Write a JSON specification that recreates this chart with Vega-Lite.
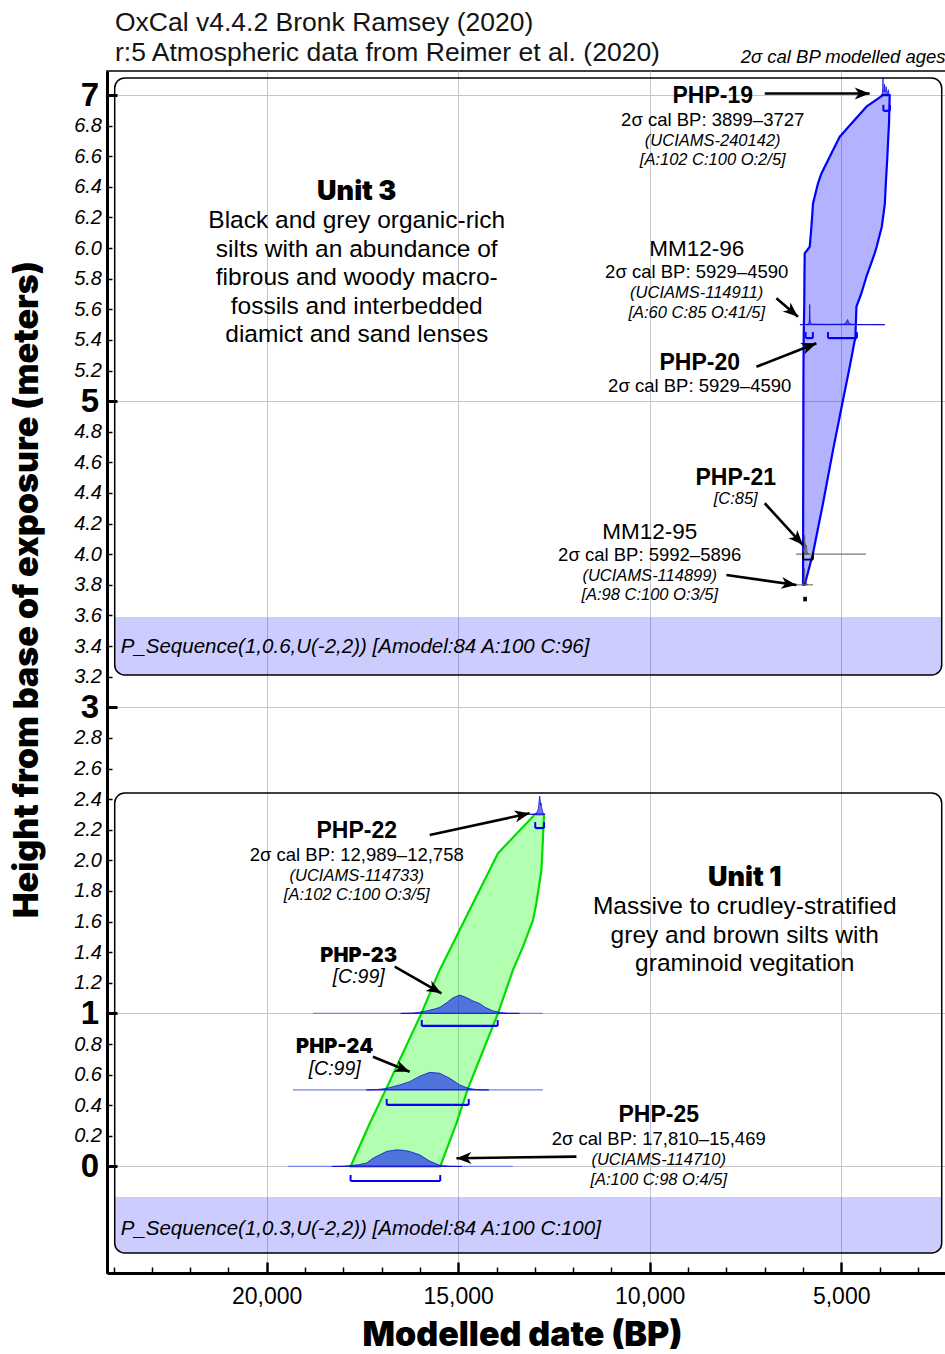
{
  "$schema": "https://vega.github.io/schema/vega-lite/v6.json",
  "width": 840,
  "height": 1202,
  "autosize": {"type": "none"},
  "padding": {"left": 107, "top": 71, "right": 0, "bottom": 81},
  "background": "white",
  "title": {
    "text": ["OxCal v4.4.2 Bronk Ramsey (2020)", "r:5 Atmospheric data from Reimer et al. (2020)"],
    "anchor": "start",
    "frame": "group",
    "dx": 8,
    "dy": 50,
    "offset": 5,
    "font": "Liberation Sans",
    "fontSize": 26.5,
    "fontWeight": "normal",
    "color": "#141414",
    "lineHeight": 30,
    "baseline": "bottom"
  },
  "config": {
    "view": {"stroke": "black", "strokeWidth": 1.5},
    "text": {"font": "Liberation Sans", "color": "black"}
  },
  "datasets": {
    "boxes": [
      {"unit": "Unit 3", "older": 23969, "younger": 2376, "top": 7.111, "bottom": 3.211, "bandTop": 3.59},
      {"unit": "Unit 1", "older": 23969, "younger": 2376, "top": 2.44, "bottom": -0.565, "bandTop": -0.199}
    ],
    "envelope": [
      {"sequence": "Unit 3", "h": 7.0, "older": 3909, "younger": 3734},
      {"sequence": "Unit 3", "h": 6.924, "older": 4342, "younger": 3742},
      {"sequence": "Unit 3", "h": 6.826, "older": 4692, "younger": 3750},
      {"sequence": "Unit 3", "h": 6.728, "older": 5039, "younger": 3770},
      {"sequence": "Unit 3", "h": 6.597, "older": 5300, "younger": 3795},
      {"sequence": "Unit 3", "h": 6.488, "older": 5517, "younger": 3820},
      {"sequence": "Unit 3", "h": 6.423, "older": 5606, "younger": 3835},
      {"sequence": "Unit 3", "h": 6.292, "older": 5736, "younger": 3860},
      {"sequence": "Unit 3", "h": 6.14, "older": 5778, "younger": 3940},
      {"sequence": "Unit 3", "h": 6.009, "older": 5822, "younger": 4075},
      {"sequence": "Unit 3", "h": 5.966, "older": 5953, "younger": 4125},
      {"sequence": "Unit 3", "h": 5.813, "older": 5960, "younger": 4342},
      {"sequence": "Unit 3", "h": 5.705, "older": 5963, "younger": 4473},
      {"sequence": "Unit 3", "h": 5.617, "older": 5966, "younger": 4603},
      {"sequence": "Unit 3", "h": 5.421, "older": 5980, "younger": 4629},
      {"sequence": "Unit 3", "h": 5.225, "older": 5985, "younger": 4778},
      {"sequence": "Unit 3", "h": 5.007, "older": 5988, "younger": 4953},
      {"sequence": "Unit 3", "h": 4.68, "older": 5990, "younger": 5214},
      {"sequence": "Unit 3", "h": 4.333, "older": 5993, "younger": 5475},
      {"sequence": "Unit 3", "h": 4.006, "older": 5995, "younger": 5736},
      {"sequence": "Unit 3", "h": 3.8, "older": 5997, "younger": 5953},
      {"sequence": "Unit 1", "h": 2.3, "older": 13000, "younger": 12760},
      {"sequence": "Unit 1", "h": 2.046, "older": 13961, "younger": 12805},
      {"sequence": "Unit 1", "h": 1.937, "older": 14179, "younger": 12828},
      {"sequence": "Unit 1", "h": 1.719, "older": 14614, "younger": 12960},
      {"sequence": "Unit 1", "h": 1.61, "older": 14832, "younger": 13047},
      {"sequence": "Unit 1", "h": 1.436, "older": 15180, "younger": 13308},
      {"sequence": "Unit 1", "h": 1.284, "older": 15483, "younger": 13569},
      {"sequence": "Unit 1", "h": 1.0, "older": 15961, "younger": 13961},
      {"sequence": "Unit 1", "h": 0.51, "older": 16875, "younger": 14744},
      {"sequence": "Unit 1", "h": 0.281, "older": 17311, "younger": 15047},
      {"sequence": "Unit 1", "h": 0.0, "older": 17810, "younger": 15469}
    ],
    "baselines": [
      {"sample": "MM12-96", "from": 6077, "to": 3864, "h": 5.5},
      {"sample": "PHP-21", "from": 6180, "to": 4352, "h": 4.0},
      {"sample": "MM12-95", "from": 6180, "to": 5736, "h": 3.8},
      {"sample": "PHP-22", "from": 13130, "to": 12760, "h": 2.3},
      {"sample": "PHP-23", "from": 18793, "to": 12789, "h": 1.0},
      {"sample": "PHP-24", "from": 19317, "to": 12789, "h": 0.5},
      {"sample": "PHP-25", "from": 19448, "to": 13574, "h": 0.0}
    ],
    "densities": [
      {"sample": "PHP-19", "year": 3960, "base": 7.0, "value": 7.0},
      {"sample": "PHP-19", "year": 3930, "base": 7.0, "value": 7.005},
      {"sample": "PHP-19", "year": 3915, "base": 7.0, "value": 7.04},
      {"sample": "PHP-19", "year": 3910, "base": 7.0, "value": 7.115},
      {"sample": "PHP-19", "year": 3905, "base": 7.0, "value": 7.04},
      {"sample": "PHP-19", "year": 3895, "base": 7.0, "value": 7.02},
      {"sample": "PHP-19", "year": 3880, "base": 7.0, "value": 7.025},
      {"sample": "PHP-19", "year": 3868, "base": 7.0, "value": 7.07},
      {"sample": "PHP-19", "year": 3858, "base": 7.0, "value": 7.03},
      {"sample": "PHP-19", "year": 3840, "base": 7.0, "value": 7.02},
      {"sample": "PHP-19", "year": 3825, "base": 7.0, "value": 7.055},
      {"sample": "PHP-19", "year": 3812, "base": 7.0, "value": 7.02},
      {"sample": "PHP-19", "year": 3790, "base": 7.0, "value": 7.01},
      {"sample": "PHP-19", "year": 3770, "base": 7.0, "value": 7.035},
      {"sample": "PHP-19", "year": 3755, "base": 7.0, "value": 7.01},
      {"sample": "PHP-19", "year": 3730, "base": 7.0, "value": 7.0},
      {"sample": "MM12-96", "year": 6077, "base": 5.5, "value": 5.5},
      {"sample": "MM12-96", "year": 5900, "base": 5.5, "value": 5.501},
      {"sample": "MM12-96", "year": 5850, "base": 5.5, "value": 5.505},
      {"sample": "MM12-96", "year": 5832, "base": 5.5, "value": 5.53},
      {"sample": "MM12-96", "year": 5822, "base": 5.5, "value": 5.632},
      {"sample": "MM12-96", "year": 5812, "base": 5.5, "value": 5.53},
      {"sample": "MM12-96", "year": 5795, "base": 5.5, "value": 5.508},
      {"sample": "MM12-96", "year": 5750, "base": 5.5, "value": 5.503},
      {"sample": "MM12-96", "year": 5400, "base": 5.5, "value": 5.502},
      {"sample": "MM12-96", "year": 4950, "base": 5.5, "value": 5.503},
      {"sample": "MM12-96", "year": 4880, "base": 5.5, "value": 5.51},
      {"sample": "MM12-96", "year": 4835, "base": 5.5, "value": 5.533},
      {"sample": "MM12-96", "year": 4800, "base": 5.5, "value": 5.512},
      {"sample": "MM12-96", "year": 4740, "base": 5.5, "value": 5.503},
      {"sample": "MM12-96", "year": 4600, "base": 5.5, "value": 5.501},
      {"sample": "MM12-96", "year": 3864, "base": 5.5, "value": 5.5},
      {"sample": "PHP-21", "year": 6010, "base": 4.0, "value": 4.0},
      {"sample": "PHP-21", "year": 5985, "base": 4.0, "value": 4.02},
      {"sample": "PHP-21", "year": 5965, "base": 4.0, "value": 4.05},
      {"sample": "PHP-21", "year": 5955, "base": 4.0, "value": 4.125},
      {"sample": "PHP-21", "year": 5946, "base": 4.0, "value": 4.05},
      {"sample": "PHP-21", "year": 5935, "base": 4.0, "value": 4.07},
      {"sample": "PHP-21", "year": 5925, "base": 4.0, "value": 4.045},
      {"sample": "PHP-21", "year": 5910, "base": 4.0, "value": 4.06},
      {"sample": "PHP-21", "year": 5895, "base": 4.0, "value": 4.02},
      {"sample": "PHP-21", "year": 5870, "base": 4.0, "value": 4.005},
      {"sample": "PHP-21", "year": 5840, "base": 4.0, "value": 4.0},
      {"sample": "MM12-95", "year": 6010, "base": 3.8, "value": 3.8},
      {"sample": "MM12-95", "year": 5985, "base": 3.8, "value": 3.815},
      {"sample": "MM12-95", "year": 5968, "base": 3.8, "value": 3.86},
      {"sample": "MM12-95", "year": 5960, "base": 3.8, "value": 3.91},
      {"sample": "MM12-95", "year": 5952, "base": 3.8, "value": 3.85},
      {"sample": "MM12-95", "year": 5940, "base": 3.8, "value": 3.835},
      {"sample": "MM12-95", "year": 5925, "base": 3.8, "value": 3.83},
      {"sample": "MM12-95", "year": 5905, "base": 3.8, "value": 3.81},
      {"sample": "MM12-95", "year": 5880, "base": 3.8, "value": 3.8},
      {"sample": "PHP-22", "year": 13130, "base": 2.3, "value": 2.3},
      {"sample": "PHP-22", "year": 13000, "base": 2.3, "value": 2.303},
      {"sample": "PHP-22", "year": 12940, "base": 2.3, "value": 2.315},
      {"sample": "PHP-22", "year": 12905, "base": 2.3, "value": 2.34},
      {"sample": "PHP-22", "year": 12885, "base": 2.3, "value": 2.395},
      {"sample": "PHP-22", "year": 12873, "base": 2.3, "value": 2.42},
      {"sample": "PHP-22", "year": 12862, "base": 2.3, "value": 2.4},
      {"sample": "PHP-22", "year": 12850, "base": 2.3, "value": 2.36},
      {"sample": "PHP-22", "year": 12838, "base": 2.3, "value": 2.375},
      {"sample": "PHP-22", "year": 12822, "base": 2.3, "value": 2.345},
      {"sample": "PHP-22", "year": 12805, "base": 2.3, "value": 2.33},
      {"sample": "PHP-22", "year": 12785, "base": 2.3, "value": 2.31},
      {"sample": "PHP-22", "year": 12760, "base": 2.3, "value": 2.302},
      {"sample": "PHP-22", "year": 12730, "base": 2.3, "value": 2.3},
      {"sample": "PHP-23", "year": 16500, "base": 1.0, "value": 1.0},
      {"sample": "PHP-23", "year": 16200, "base": 1.0, "value": 1.002},
      {"sample": "PHP-23", "year": 16000, "base": 1.0, "value": 1.008},
      {"sample": "PHP-23", "year": 15800, "base": 1.0, "value": 1.018},
      {"sample": "PHP-23", "year": 15600, "base": 1.0, "value": 1.03},
      {"sample": "PHP-23", "year": 15480, "base": 1.0, "value": 1.04},
      {"sample": "PHP-23", "year": 15300, "base": 1.0, "value": 1.07},
      {"sample": "PHP-23", "year": 15150, "base": 1.0, "value": 1.1},
      {"sample": "PHP-23", "year": 14961, "base": 1.0, "value": 1.12},
      {"sample": "PHP-23", "year": 14800, "base": 1.0, "value": 1.105},
      {"sample": "PHP-23", "year": 14600, "base": 1.0, "value": 1.08},
      {"sample": "PHP-23", "year": 14440, "base": 1.0, "value": 1.065},
      {"sample": "PHP-23", "year": 14300, "base": 1.0, "value": 1.04},
      {"sample": "PHP-23", "year": 14100, "base": 1.0, "value": 1.017},
      {"sample": "PHP-23", "year": 13900, "base": 1.0, "value": 1.006},
      {"sample": "PHP-23", "year": 13700, "base": 1.0, "value": 1.001},
      {"sample": "PHP-23", "year": 13400, "base": 1.0, "value": 1.0},
      {"sample": "PHP-24", "year": 17400, "base": 0.5, "value": 0.5},
      {"sample": "PHP-24", "year": 17100, "base": 0.5, "value": 0.503},
      {"sample": "PHP-24", "year": 16875, "base": 0.5, "value": 0.51},
      {"sample": "PHP-24", "year": 16527, "base": 0.5, "value": 0.533},
      {"sample": "PHP-24", "year": 16267, "base": 0.5, "value": 0.554},
      {"sample": "PHP-24", "year": 16005, "base": 0.5, "value": 0.59},
      {"sample": "PHP-24", "year": 15744, "base": 0.5, "value": 0.615},
      {"sample": "PHP-24", "year": 15483, "base": 0.5, "value": 0.609},
      {"sample": "PHP-24", "year": 15222, "base": 0.5, "value": 0.576},
      {"sample": "PHP-24", "year": 14961, "base": 0.5, "value": 0.533},
      {"sample": "PHP-24", "year": 14744, "base": 0.5, "value": 0.511},
      {"sample": "PHP-24", "year": 14510, "base": 0.5, "value": 0.502},
      {"sample": "PHP-24", "year": 14200, "base": 0.5, "value": 0.5},
      {"sample": "PHP-25", "year": 18300, "base": 0.0, "value": 0.0},
      {"sample": "PHP-25", "year": 18000, "base": 0.0, "value": 0.002},
      {"sample": "PHP-25", "year": 17800, "base": 0.0, "value": 0.006},
      {"sample": "PHP-25", "year": 17600, "base": 0.0, "value": 0.012},
      {"sample": "PHP-25", "year": 17397, "base": 0.0, "value": 0.022},
      {"sample": "PHP-25", "year": 17225, "base": 0.0, "value": 0.054},
      {"sample": "PHP-25", "year": 17050, "base": 0.0, "value": 0.076},
      {"sample": "PHP-25", "year": 16875, "base": 0.0, "value": 0.098},
      {"sample": "PHP-25", "year": 16614, "base": 0.0, "value": 0.109},
      {"sample": "PHP-25", "year": 16400, "base": 0.0, "value": 0.105},
      {"sample": "PHP-25", "year": 16267, "base": 0.0, "value": 0.098},
      {"sample": "PHP-25", "year": 16005, "base": 0.0, "value": 0.076},
      {"sample": "PHP-25", "year": 15744, "base": 0.0, "value": 0.035},
      {"sample": "PHP-25", "year": 15483, "base": 0.0, "value": 0.008},
      {"sample": "PHP-25", "year": 15200, "base": 0.0, "value": 0.001},
      {"sample": "PHP-25", "year": 14900, "base": 0.0, "value": 0.0}
    ],
    "ranges": [
      {"sample": "PHP-19", "from": 3899, "to": 3727, "h": 6.897},
      {"sample": "MM12-96", "from": 5929, "to": 5740, "h": 5.412},
      {"sample": "MM12-96", "from": 5345, "to": 4590, "h": 5.412},
      {"sample": "PHP-22", "from": 12989, "to": 12758, "h": 2.211},
      {"sample": "PHP-23", "from": 15953, "to": 13969, "h": 0.918},
      {"sample": "PHP-24", "from": 16867, "to": 14726, "h": 0.402},
      {"sample": "PHP-25", "from": 17810, "to": 15469, "h": -0.095},
      {"sample": "PHP-21", "from": 5997, "to": 5736, "h": 3.965},
      {"sample": "MM12-95", "from": 5992, "to": 5896, "h": 3.707}
    ],
    "arrows": [
      {"label": "PHP-19", "fromYear": 6997, "fromH": 7.01, "toYear": 4256, "toH": 7.01},
      {"label": "MM12-96", "fromYear": 6692, "fromH": 5.672, "toYear": 6128, "toH": 5.552},
      {"label": "PHP-20", "fromYear": 7214, "fromH": 5.225, "toYear": 5648, "toH": 5.378},
      {"label": "PHP-21", "fromYear": 6997, "fromH": 4.333, "toYear": 5997, "toH": 4.06},
      {"label": "MM12-95", "fromYear": 7997, "fromH": 3.864, "toYear": 6170, "toH": 3.799},
      {"label": "PHP-22", "fromYear": 15744, "fromH": 2.166, "toYear": 13133, "toH": 2.307},
      {"label": "PHP-23", "fromYear": 16658, "fromH": 1.305, "toYear": 15439, "toH": 1.131},
      {"label": "PHP-24", "fromYear": 17225, "fromH": 0.717, "toYear": 16267, "toH": 0.619},
      {"label": "PHP-25", "fromYear": 11914, "fromH": 0.064, "toYear": 15047, "toH": 0.054}
    ],
    "notes": [
      {"text": "PHP-19", "year": 8355, "h": 6.948, "role": "sample"},
      {"text": "PHP-20", "year": 8695, "h": 5.203, "role": "sample"},
      {"text": "PHP-21", "year": 7755, "h": 4.452, "role": "sample"},
      {"text": "PHP-22", "year": 17650, "h": 2.146, "role": "sample"},
      {"text": "PHP-25", "year": 9765, "h": 0.291, "role": "sample"},
      {"text": "PHP-23", "year": 17598, "h": 1.336, "role": "sampleHeavy"},
      {"text": "PHP-24", "year": 18225, "h": 0.741, "role": "sampleHeavy"},
      {"text": "MM12-96", "year": 8773, "h": 5.948, "role": "lab"},
      {"text": "MM12-95", "year": 10000, "h": 4.099, "role": "lab"},
      {"text": "2σ cal BP: 3899–3727", "year": 8355, "h": 6.797, "role": "range"},
      {"text": "2σ cal BP: 5929–4590", "year": 8773, "h": 5.804, "role": "range"},
      {"text": "2σ cal BP: 5929–4590", "year": 8695, "h": 5.06, "role": "range"},
      {"text": "2σ cal BP: 5992–5896", "year": 10000, "h": 3.956, "role": "range"},
      {"text": "2σ cal BP: 12,989–12,758", "year": 17650, "h": 1.997, "role": "range"},
      {"text": "2σ cal BP: 17,810–15,469", "year": 9765, "h": 0.141, "role": "range"},
      {"text": "(UCIAMS-240142)", "year": 8355, "h": 6.667, "role": "note"},
      {"text": "[A:102 C:100 O:2/5]", "year": 8355, "h": 6.543, "role": "note"},
      {"text": "(UCIAMS-114911)", "year": 8773, "h": 5.674, "role": "note"},
      {"text": "[A:60 C:85 O:41/5]", "year": 8773, "h": 5.543, "role": "note"},
      {"text": "[C:85]", "year": 7755, "h": 4.328, "role": "note"},
      {"text": "(UCIAMS-114899)", "year": 10000, "h": 3.825, "role": "note"},
      {"text": "[A:98 C:100 O:3/5]", "year": 10000, "h": 3.701, "role": "note"},
      {"text": "(UCIAMS-114733)", "year": 17650, "h": 1.865, "role": "note"},
      {"text": "[A:102 C:100 O:3/5]", "year": 17650, "h": 1.741, "role": "note"},
      {"text": "(UCIAMS-114710)", "year": 9765, "h": 0.01, "role": "note"},
      {"text": "[A:100 C:98 O:4/5]", "year": 9765, "h": -0.121, "role": "note"},
      {"text": "[C:99]", "year": 17598, "h": 1.198, "role": "noteLarge"},
      {"text": "[C:99]", "year": 18225, "h": 0.597, "role": "noteLarge"},
      {"text": "Unit 3", "year": 17650, "h": 6.314, "role": "unit"},
      {"text": "Unit 1", "year": 7519, "h": 1.832, "role": "unit"},
      {"text": "Black and grey organic-rich", "year": 17650, "h": 6.131, "role": "unitText"},
      {"text": "silts with an abundance of", "year": 17650, "h": 5.942, "role": "unitText"},
      {"text": "fibrous and woody macro-", "year": 17650, "h": 5.759, "role": "unitText"},
      {"text": "fossils and interbedded", "year": 17650, "h": 5.569, "role": "unitText"},
      {"text": "diamict and sand lenses", "year": 17650, "h": 5.386, "role": "unitText"},
      {"text": "Massive to crudley-stratified", "year": 7519, "h": 1.65, "role": "unitText"},
      {"text": "grey and brown silts with", "year": 7519, "h": 1.46, "role": "unitText"},
      {"text": "graminoid vegitation", "year": 7519, "h": 1.277, "role": "unitText"},
      {"text": "P_Sequence(1,0.6,U(-2,2)) [Amodel:84 A:100 C:96]", "year": 23812, "h": 3.355, "role": "model"},
      {"text": "P_Sequence(1,0.3,U(-2,2)) [Amodel:84 A:100 C:100]", "year": 23812, "h": -0.4475, "role": "model"},
      {"text": "2σ cal BP modelled ages", "year": 7624, "h": 7.209, "role": "caption"}
    ]
  },
  "layer": [
    {
      "data": {"name": "boxes"},
      "mark": {"type": "rect", "fill": "#0000ff", "fillOpacity": 0.2, "strokeWidth": 0, "cornerRadiusBottomLeft": 9, "cornerRadiusBottomRight": 9},
      "encoding": {
        "x": {
          "field": "older",
          "type": "quantitative",
          "scale": {"domain": [2238, 24170], "reverse": true, "nice": false, "zero": false},
          "axis": {
            "title": "Modelled date (BP)",
            "titleFont": "Inter",
            "titleFontWeight": 900,
            "titleFontSize": 34,
            "titleColor": "black",
            "titleX": 415,
            "titleY": 72,
            "titleAlign": "center",
            "titleBaseline": "alphabetic",
            "values": [3000, 4000, 5000, 6000, 7000, 8000, 9000, 10000, 11000, 12000, 13000, 14000, 15000, 16000, 17000, 18000, 19000, 20000, 21000, 22000, 23000, 24000],
            "tickCount": 500,
            "labelExpr": "datum.value % 5000 === 0 ? format(datum.value, ',') : ''",
            "labelFont": "Liberation Sans",
            "labelFontSize": 23,
            "labelColor": "black",
            "labelBaseline": "alphabetic",
            "labelPadding": 41,
            "labelOverlap": false,
            "labelFlush": false,
            "labelBound": false,
            "tickColor": "black",
            "tickSize": {"condition": {"test": "datum.value % 5000 === 0", "value": -11}, "value": -6},
            "tickWidth": {"condition": {"test": "datum.value % 5000 === 0", "value": 2.5}, "value": 1.5},
            "domainColor": "black",
            "domainWidth": 3,
            "grid": true,
            "gridColor": "#c4c4cc",
            "gridWidth": 1,
            "gridOpacity": {"condition": {"test": "datum.value % 5000 === 0", "value": 1}, "value": 0}
          }
        },
        "x2": {"field": "younger"},
        "y": {
          "field": "bandTop",
          "type": "quantitative",
          "scale": {"domain": [-0.696, 7.157], "nice": false, "zero": false},
          "axis": {
            "title": "Height from base of exposure (meters)",
            "titleFont": "Inter",
            "titleFontWeight": 900,
            "titleFontSize": 34,
            "titleColor": "black",
            "titleX": -80,
            "titleY": 518,
            "titleAngle": 270,
            "titleAlign": "center",
            "titleBaseline": "middle",
            "values": [0, 0.2, 0.4, 0.6, 0.8, 1, 1.2, 1.4, 1.6, 1.8, 2, 2.2, 2.4, 2.6, 2.8, 3, 3.2, 3.4, 3.6, 3.8, 4, 4.2, 4.4, 4.6, 4.8, 5, 5.2, 5.4, 5.6, 5.8, 6, 6.2, 6.4, 6.6, 6.8, 7],
            "tickCount": 500,
            "labelExpr": "(datum.value === 0 || datum.value === 1 || datum.value === 3 || datum.value === 5 || datum.value === 7) ? format(datum.value, 'd') : format(datum.value, '.1f')",
            "labelFont": "Liberation Sans",
            "labelColor": "black",
            "labelBaseline": "middle",
            "labelFontSize": {"condition": {"test": "datum.value === 0 || datum.value === 1 || datum.value === 3 || datum.value === 5 || datum.value === 7", "value": 33}, "value": 20},
            "labelFontWeight": {"condition": {"test": "datum.value === 0 || datum.value === 1 || datum.value === 3 || datum.value === 5 || datum.value === 7", "value": "bold"}, "value": "normal"},
            "labelFontStyle": {"condition": {"test": "datum.value === 0 || datum.value === 1 || datum.value === 3 || datum.value === 5 || datum.value === 7", "value": "normal"}, "value": "italic"},
            "labelPadding": {"condition": {"test": "datum.value === 0 || datum.value === 1 || datum.value === 3 || datum.value === 5 || datum.value === 7", "value": 18.5}, "value": 10.5},
            "labelOverlap": false,
            "labelFlush": false,
            "labelBound": false,
            "tickColor": "black",
            "tickSize": {"condition": {"test": "datum.value === 0 || datum.value === 1 || datum.value === 3 || datum.value === 5 || datum.value === 7", "value": -10}, "value": -5},
            "tickWidth": {"condition": {"test": "datum.value === 0 || datum.value === 1 || datum.value === 3 || datum.value === 5 || datum.value === 7", "value": 3}, "value": 1.5},
            "domainColor": "black",
            "domainWidth": 3,
            "grid": true,
            "gridColor": "#c4c4cc",
            "gridWidth": 1,
            "gridOpacity": {"condition": {"test": "datum.value === 0 || datum.value === 1 || datum.value === 3 || datum.value === 5 || datum.value === 7", "value": 1}, "value": 0}
          }
        },
        "y2": {"field": "bottom"}
      }
    },
    {
      "data": {"name": "boxes"},
      "mark": {"type": "rect", "filled": false, "stroke": "black", "strokeWidth": 1.5, "cornerRadius": 10},
      "encoding": {
        "x": {"field": "older", "type": "quantitative"},
        "x2": {"field": "younger"},
        "y": {"field": "top", "type": "quantitative"},
        "y2": {"field": "bottom"}
      }
    },
    {
      "data": {"name": "envelope"},
      "transform": [{"filter": "datum.sequence === 'Unit 3'"}],
      "mark": {"type": "area", "orient": "horizontal", "fill": "#0000ff", "fillOpacity": 0.3, "stroke": "#0000ff", "strokeWidth": 2.2, "strokeJoin": "round"},
      "encoding": {
        "y": {"field": "h", "type": "quantitative"},
        "x": {"field": "older", "type": "quantitative", "stack": null},
        "x2": {"field": "younger"}
      }
    },
    {
      "data": {"name": "envelope"},
      "transform": [{"filter": "datum.sequence === 'Unit 1'"}],
      "mark": {"type": "area", "orient": "horizontal", "fill": "#00ff00", "fillOpacity": 0.3, "stroke": "#00dd00", "strokeWidth": 2.2, "strokeJoin": "round"},
      "encoding": {
        "y": {"field": "h", "type": "quantitative"},
        "x": {"field": "older", "type": "quantitative", "stack": null},
        "x2": {"field": "younger"}
      }
    },
    {
      "data": {"name": "baselines"},
      "transform": [{"filter": "datum.sample !== 'PHP-21' && datum.sample !== 'MM12-95'"}],
      "mark": {"type": "rule", "color": "#7482f0", "strokeWidth": 1.2},
      "encoding": {
        "x": {"field": "from", "type": "quantitative"},
        "x2": {"field": "to"},
        "y": {"field": "h", "type": "quantitative"}
      }
    },
    {
      "data": {"name": "baselines"},
      "transform": [{"filter": "datum.sample === 'PHP-21' || datum.sample === 'MM12-95'"}],
      "mark": {"type": "rule", "color": "#777777", "strokeWidth": 1.2},
      "encoding": {
        "x": {"field": "from", "type": "quantitative"},
        "x2": {"field": "to"},
        "y": {"field": "h", "type": "quantitative"}
      }
    },
    {
      "data": {"name": "densities"},
      "transform": [{"filter": "datum.sample !== 'PHP-21' && datum.sample !== 'MM12-95'"}],
      "mark": {"type": "area", "fill": "#0000ff", "fillOpacity": 0.55, "stroke": "#0000c8", "strokeWidth": 0.7},
      "encoding": {
        "x": {"field": "year", "type": "quantitative"},
        "y": {"field": "value", "type": "quantitative", "stack": null},
        "y2": {"field": "base"},
        "detail": {"field": "sample"}
      }
    },
    {
      "data": {"name": "densities"},
      "transform": [{"filter": "datum.sample === 'PHP-21' || datum.sample === 'MM12-95'"}],
      "mark": {"type": "area", "fill": "#333333", "fillOpacity": 0.5, "stroke": "#555555", "strokeWidth": 0.7},
      "encoding": {
        "x": {"field": "year", "type": "quantitative"},
        "y": {"field": "value", "type": "quantitative", "stack": null},
        "y2": {"field": "base"},
        "detail": {"field": "sample"}
      }
    },
    {
      "data": {"name": "ranges"},
      "transform": [{"filter": "datum.sample !== 'PHP-21' && datum.sample !== 'MM12-95'"}],
      "mark": {"type": "rule", "color": "#0000ff", "strokeWidth": 2.2},
      "encoding": {
        "x": {"field": "from", "type": "quantitative"},
        "x2": {"field": "to"},
        "y": {"field": "h", "type": "quantitative"}
      }
    },
    {
      "data": {"name": "ranges"},
      "transform": [
        {"filter": "datum.sample !== 'PHP-21' && datum.sample !== 'MM12-95'"},
        {"fold": ["from", "to"], "as": ["end", "year"]}
      ],
      "mark": {"type": "tick", "orient": "vertical", "size": 6, "thickness": 2, "yOffset": -3, "color": "#0000ff", "opacity": 1},
      "encoding": {
        "x": {"field": "year", "type": "quantitative"},
        "y": {"field": "h", "type": "quantitative"}
      }
    },
    {
      "data": {"name": "ranges"},
      "transform": [{"filter": "datum.sample === 'PHP-21'"}],
      "mark": {"type": "rule", "color": "black", "strokeWidth": 1.8},
      "encoding": {
        "x": {"field": "from", "type": "quantitative"},
        "x2": {"field": "to"},
        "y": {"field": "h", "type": "quantitative"}
      }
    },
    {
      "data": {"name": "ranges"},
      "transform": [
        {"filter": "datum.sample === 'PHP-21'"},
        {"fold": ["from", "to"], "as": ["end", "year"]}
      ],
      "mark": {"type": "tick", "orient": "vertical", "size": 7, "thickness": 1.8, "yOffset": -3.5, "color": "black", "opacity": 1},
      "encoding": {
        "x": {"field": "year", "type": "quantitative"},
        "y": {"field": "h", "type": "quantitative"}
      }
    },
    {
      "data": {"name": "ranges"},
      "transform": [{"filter": "datum.sample === 'MM12-95'"}],
      "mark": {"type": "rule", "color": "black", "strokeWidth": 4.5},
      "encoding": {
        "x": {"field": "from", "type": "quantitative"},
        "x2": {"field": "to"},
        "y": {"field": "h", "type": "quantitative"}
      }
    },
    {
      "data": {"name": "arrows"},
      "mark": {"type": "rule", "color": "black", "strokeWidth": 2.6},
      "encoding": {
        "x": {"field": "fromYear", "type": "quantitative"},
        "y": {"field": "fromH", "type": "quantitative"},
        "x2": {"field": "toYear"},
        "y2": {"field": "toH"}
      }
    },
    {
      "data": {"name": "arrows"},
      "transform": [{"filter": "datum.label === 'PHP-19'"}],
      "mark": {"type": "point", "shape": "M0,0L-2,-0.8L-1.45,0L-2,0.8Z", "size": 225, "filled": true, "color": "black", "opacity": 1, "strokeWidth": 0, "angle": 0},
      "encoding": {"x": {"field": "toYear", "type": "quantitative"}, "y": {"field": "toH", "type": "quantitative"}}
    },
    {
      "data": {"name": "arrows"},
      "transform": [{"filter": "datum.label === 'MM12-96'"}],
      "mark": {"type": "point", "shape": "M0,0L-2,-0.8L-1.45,0L-2,0.8Z", "size": 225, "filled": true, "color": "black", "opacity": 1, "strokeWidth": 0, "angle": 40},
      "encoding": {"x": {"field": "toYear", "type": "quantitative"}, "y": {"field": "toH", "type": "quantitative"}}
    },
    {
      "data": {"name": "arrows"},
      "transform": [{"filter": "datum.label === 'PHP-20'"}],
      "mark": {"type": "point", "shape": "M0,0L-2,-0.8L-1.45,0L-2,0.8Z", "size": 225, "filled": true, "color": "black", "opacity": 1, "strokeWidth": 0, "angle": -21},
      "encoding": {"x": {"field": "toYear", "type": "quantitative"}, "y": {"field": "toH", "type": "quantitative"}}
    },
    {
      "data": {"name": "arrows"},
      "transform": [{"filter": "datum.label === 'PHP-21'"}],
      "mark": {"type": "point", "shape": "M0,0L-2,-0.8L-1.45,0L-2,0.8Z", "size": 225, "filled": true, "color": "black", "opacity": 1, "strokeWidth": 0, "angle": 47},
      "encoding": {"x": {"field": "toYear", "type": "quantitative"}, "y": {"field": "toH", "type": "quantitative"}}
    },
    {
      "data": {"name": "arrows"},
      "transform": [{"filter": "datum.label === 'MM12-95'"}],
      "mark": {"type": "point", "shape": "M0,0L-2,-0.8L-1.45,0L-2,0.8Z", "size": 225, "filled": true, "color": "black", "opacity": 1, "strokeWidth": 0, "angle": 8},
      "encoding": {"x": {"field": "toYear", "type": "quantitative"}, "y": {"field": "toH", "type": "quantitative"}}
    },
    {
      "data": {"name": "arrows"},
      "transform": [{"filter": "datum.label === 'PHP-22'"}],
      "mark": {"type": "point", "shape": "M0,0L-2,-0.8L-1.45,0L-2,0.8Z", "size": 225, "filled": true, "color": "black", "opacity": 1, "strokeWidth": 0, "angle": -12},
      "encoding": {"x": {"field": "toYear", "type": "quantitative"}, "y": {"field": "toH", "type": "quantitative"}}
    },
    {
      "data": {"name": "arrows"},
      "transform": [{"filter": "datum.label === 'PHP-23'"}],
      "mark": {"type": "point", "shape": "M0,0L-2,-0.8L-1.45,0L-2,0.8Z", "size": 225, "filled": true, "color": "black", "opacity": 1, "strokeWidth": 0, "angle": 30},
      "encoding": {"x": {"field": "toYear", "type": "quantitative"}, "y": {"field": "toH", "type": "quantitative"}}
    },
    {
      "data": {"name": "arrows"},
      "transform": [{"filter": "datum.label === 'PHP-24'"}],
      "mark": {"type": "point", "shape": "M0,0L-2,-0.8L-1.45,0L-2,0.8Z", "size": 225, "filled": true, "color": "black", "opacity": 1, "strokeWidth": 0, "angle": 22},
      "encoding": {"x": {"field": "toYear", "type": "quantitative"}, "y": {"field": "toH", "type": "quantitative"}}
    },
    {
      "data": {"name": "arrows"},
      "transform": [{"filter": "datum.label === 'PHP-25'"}],
      "mark": {"type": "point", "shape": "M0,0L-2,-0.8L-1.45,0L-2,0.8Z", "size": 225, "filled": true, "color": "black", "opacity": 1, "strokeWidth": 0, "angle": 179},
      "encoding": {"x": {"field": "toYear", "type": "quantitative"}, "y": {"field": "toH", "type": "quantitative"}}
    },
    {
      "data": {"name": "notes"},
      "transform": [{"filter": "datum.role === 'sample'"}],
      "mark": {"type": "text", "font": "Liberation Sans", "fontWeight": "bold", "fontSize": 23, "align": "center", "baseline": "alphabetic", "color": "black"},
      "encoding": {"x": {"field": "year", "type": "quantitative"}, "y": {"field": "h", "type": "quantitative"}, "text": {"field": "text"}}
    },
    {
      "data": {"name": "notes"},
      "transform": [{"filter": "datum.role === 'sampleHeavy'"}],
      "mark": {"type": "text", "font": "Inter", "fontWeight": 900, "fontSize": 20, "align": "center", "baseline": "alphabetic", "color": "black"},
      "encoding": {"x": {"field": "year", "type": "quantitative"}, "y": {"field": "h", "type": "quantitative"}, "text": {"field": "text"}}
    },
    {
      "data": {"name": "notes"},
      "transform": [{"filter": "datum.role === 'lab'"}],
      "mark": {"type": "text", "font": "Liberation Sans", "fontSize": 22.5, "align": "center", "baseline": "alphabetic", "color": "black"},
      "encoding": {"x": {"field": "year", "type": "quantitative"}, "y": {"field": "h", "type": "quantitative"}, "text": {"field": "text"}}
    },
    {
      "data": {"name": "notes"},
      "transform": [{"filter": "datum.role === 'range'"}],
      "mark": {"type": "text", "font": "Liberation Sans", "fontSize": 18.5, "align": "center", "baseline": "alphabetic", "color": "black"},
      "encoding": {"x": {"field": "year", "type": "quantitative"}, "y": {"field": "h", "type": "quantitative"}, "text": {"field": "text"}}
    },
    {
      "data": {"name": "notes"},
      "transform": [{"filter": "datum.role === 'note'"}],
      "mark": {"type": "text", "font": "Liberation Sans", "fontSize": 16.5, "fontStyle": "italic", "align": "center", "baseline": "alphabetic", "color": "black"},
      "encoding": {"x": {"field": "year", "type": "quantitative"}, "y": {"field": "h", "type": "quantitative"}, "text": {"field": "text"}}
    },
    {
      "data": {"name": "notes"},
      "transform": [{"filter": "datum.role === 'noteLarge'"}],
      "mark": {"type": "text", "font": "Liberation Sans", "fontSize": 19.5, "fontStyle": "italic", "align": "center", "baseline": "alphabetic", "color": "black"},
      "encoding": {"x": {"field": "year", "type": "quantitative"}, "y": {"field": "h", "type": "quantitative"}, "text": {"field": "text"}}
    },
    {
      "data": {"name": "notes"},
      "transform": [{"filter": "datum.role === 'unit'"}],
      "mark": {"type": "text", "font": "Inter", "fontWeight": 900, "fontSize": 27, "align": "center", "baseline": "alphabetic", "color": "black"},
      "encoding": {"x": {"field": "year", "type": "quantitative"}, "y": {"field": "h", "type": "quantitative"}, "text": {"field": "text"}}
    },
    {
      "data": {"name": "notes"},
      "transform": [{"filter": "datum.role === 'unitText'"}],
      "mark": {"type": "text", "font": "Liberation Sans", "fontSize": 24.5, "align": "center", "baseline": "alphabetic", "color": "black"},
      "encoding": {"x": {"field": "year", "type": "quantitative"}, "y": {"field": "h", "type": "quantitative"}, "text": {"field": "text"}}
    },
    {
      "data": {"name": "notes"},
      "transform": [{"filter": "datum.role === 'model'"}],
      "mark": {"type": "text", "font": "Liberation Sans", "fontSize": 20.5, "fontStyle": "italic", "align": "left", "baseline": "alphabetic", "color": "black"},
      "encoding": {"x": {"field": "year", "type": "quantitative"}, "y": {"field": "h", "type": "quantitative"}, "text": {"field": "text"}}
    },
    {
      "data": {"name": "notes"},
      "transform": [{"filter": "datum.role === 'caption'"}],
      "mark": {"type": "text", "font": "Liberation Sans", "fontSize": 18.5, "fontStyle": "italic", "align": "left", "baseline": "alphabetic", "color": "black"},
      "encoding": {"x": {"field": "year", "type": "quantitative"}, "y": {"field": "h", "type": "quantitative"}, "text": {"field": "text"}}
    }
  ]
}
